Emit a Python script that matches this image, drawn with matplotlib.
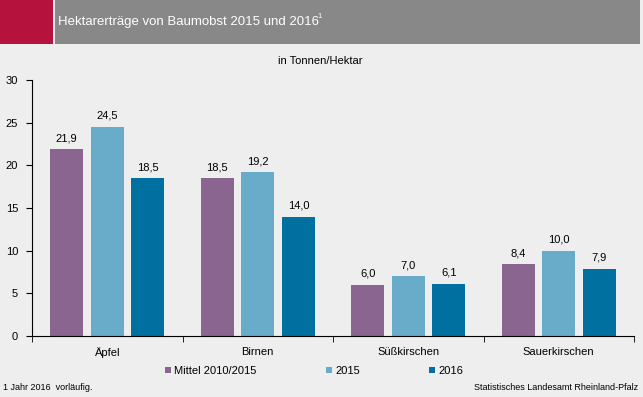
import matplotlib
matplotlib.use("Agg")
import matplotlib.pyplot as plt
from matplotlib.patches import Rectangle
import numpy as np

categories = ["Äpfel", "Birnen", "Süßkirschen", "Sauerkirschen"]
series_names = ["Mittel 2010/2015", "2015", "2016"]
mittel = [21.9, 18.5, 6.0, 8.4]
y2015 = [24.5, 19.2, 7.0, 10.0]
y2016 = [18.5, 14.0, 6.1, 7.9]
yticks = [0, 5, 10, 15, 20, 25, 30]
colors = ["#8A6590", "#68ACC9", "#0070A0"]

plt.rcParams['font.family'] = ['Liberation Sans', 'DejaVu Sans']
W, H = 643, 397
fig = plt.figure(figsize=(W/100, H/100), dpi=100)
fig.patch.set_facecolor("#EEEEEE")

# header
fig.patches.append(Rectangle((0, 1 - 44/H), 53/W, 44/H, transform=fig.transFigure,
                             facecolor="#B5123E", edgecolor="none"))
fig.patches.append(Rectangle((55/W, 1 - 44/H), 585/W, 44/H, transform=fig.transFigure,
                             facecolor="#888888", edgecolor="none"))
t = fig.text(58/W, 1 - 22/H, "Hektarerträge von Baumobst 2015 und 2016", color="white",
             fontsize=9.5, va="center", ha="left")
fig.canvas.draw()
bb = t.get_window_extent()
fig.text(bb.x1/W - 1.5/W, 1 - 17/H, "1", color="white", fontsize=5.5, va="center", ha="left")
fig.text(320/W, 1 - 61/H, "in Tonnen/Hektar", fontsize=8, ha="center", va="center")

ax = fig.add_axes([32/W, 1 - 336/H, 602/W, 256/H])
ax.set_facecolor("#EEEEEE")
x = np.arange(len(categories))
bw = 0.22
step = 0.27
for i, (vals, c) in enumerate(zip([mittel, y2015, y2016], colors)):
    pos = x + (i - 1) * step
    ax.bar(pos, vals, bw, color=c, label=series_names[i])
    for p, v in zip(pos, vals):
        ax.text(p, v + 0.7, f"{v:.1f}".replace(".", ","), ha="center", va="bottom", fontsize=8)

ax.set_xlim(-0.5, 3.5)
ax.set_ylim(0, 30)
ax.set_yticks(yticks)
ax.set_yticklabels([str(t) for t in yticks], fontsize=8)
ax.set_xticks(x)
ax.set_xticklabels(categories, fontsize=8)
ax.tick_params(axis="x", length=0, pad=8)
ax.set_xticks(np.arange(-0.5, 4.0, 1.0), minor=True)
ax.tick_params(axis="x", which="minor", length=4, direction="out")
ax.tick_params(axis="y", length=4, direction="out", pad=6)
for s in ["top", "right"]:
    ax.spines[s].set_visible(False)
ax.spines["left"].set_color("black")
ax.spines["bottom"].set_color("black")

handles, labels = ax.get_legend_handles_labels()
leg = fig.legend(handles, labels, loc="center", bbox_to_anchor=(314/W, 1 - 371/H), ncol=3,
                 frameon=False, fontsize=8, handlelength=0.55, handleheight=0.55,
                 handletextpad=0.3, columnspacing=6.2)

fig.text(3/W, 1 - 387/H, "1 Jahr 2016  vorläufig.", fontsize=6.5, va="center", ha="left")
fig.text(638/W, 1 - 387/H, "Statistisches Landesamt Rheinland-Pfalz", fontsize=6.5,
         va="center", ha="right")

fig.savefig("out.png", dpi=100, facecolor=fig.get_facecolor())
